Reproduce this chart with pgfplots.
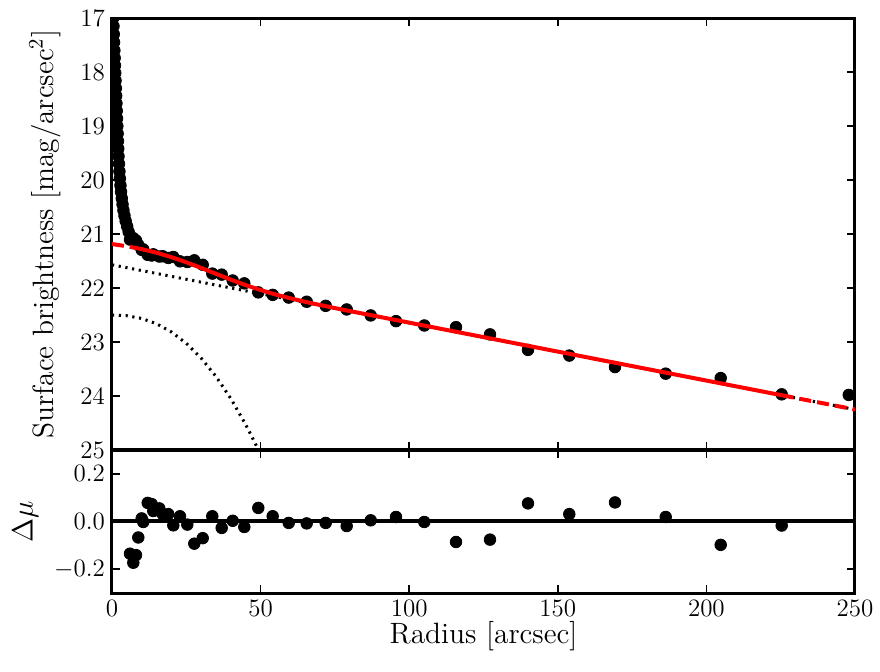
\RequirePackage{fix-cm}
\documentclass[border=0pt]{standalone}
\usepackage{pgfplots}
\pgfplotsset{compat=1.18}

% surface-brightness profile, markers
\pgfplotstableread{
r mu
0.30 16.85
0.40 17.00
0.50 17.15
0.60 17.30
0.70 17.45
0.80 17.60
0.90 17.74
1.00 17.88
1.10 18.02
1.20 18.16
1.30 18.30
1.40 18.44
1.50 18.58
1.60 18.72
1.70 18.86
1.80 19.00
1.90 19.14
2.00 19.28
2.10 19.42
2.20 19.56
2.35 19.70
2.50 19.84
2.65 19.97
2.85 20.10
3.05 20.22
3.30 20.34
3.55 20.45
3.85 20.56
4.20 20.66
4.60 20.76
5.10 20.86
5.60 20.96
6.06 21.103
7.17 21.077
8.08 21.119
8.85 21.201
9.99 21.293
10.53 21.285
12.01 21.385
13.36 21.398
13.89 21.376
15.92 21.417
17.06 21.412
18.94 21.443
20.63 21.425
22.88 21.506
25.34 21.518
27.69 21.487
30.52 21.570
33.75 21.733
36.91 21.752
40.61 21.861
44.52 21.914
49.23 22.081
54.07 22.127
59.46 22.177
65.51 22.254
71.90 22.330
78.97 22.397
87.05 22.508
95.56 22.613
105.08 22.694
115.75 22.725
127.19 22.859
139.97 23.146
153.87 23.251
169.25 23.464
186.31 23.586
204.81 23.668
225.34 23.969
247.90 23.980
}\profile

% residuals
\pgfplotstableread{
r dmu
6.06 -0.135
7.17 -0.173
8.08 -0.141
8.85 -0.067
9.99 0.013
10.53 -0.002
12.01 0.078
13.36 0.073
13.89 0.044
15.92 0.055
17.06 0.031
18.94 0.031
20.63 -0.016
22.88 0.022
25.34 -0.013
27.69 -0.093
30.52 -0.070
33.75 0.022
36.91 -0.027
40.61 0.003
44.52 -0.023
49.23 0.057
54.07 0.022
59.46 -0.006
65.51 -0.008
71.90 -0.006
78.97 -0.019
87.05 0.005
95.56 0.019
105.08 -0.002
115.75 -0.086
127.19 -0.076
139.97 0.076
153.87 0.031
169.25 0.080
186.31 0.019
204.81 -0.098
225.34 -0.017
}\resid

\pgfplotsset{
  panel/.style={
    scale only axis, width=371.5pt,
    xmin=0, xmax=250, xtick={0,50,...,250},
    axis line style={line width=1.5pt},
    every tick/.style={black, line width=0.8pt},
    major tick length=4pt, tick align=inside,
    xtick pos=both, ytick pos=both,
    tick label style={font=\fontsize{12.5}{14}\selectfont},
    label style={font=\fontsize{14.7}{17}\selectfont},
    clip marker paths=true,
  },
  dots/.style={only marks, mark=*, mark size=2.9pt, mark options={draw=black, fill=black}},
  dotline/.style={black, line width=1.5pt, dash pattern=on 1.1pt off 2.3pt},
}

\begin{document}
\begin{tikzpicture}
\begin{axis}[panel, name=top, at={(0,71.5pt)}, anchor=south west, height=216pt,
    ymin=17, ymax=25, y dir=reverse, ytick={17,18,...,25}, xticklabels={},
    ylabel={Surface brightness [mag/arcsec$^2$]},
    ylabel style={at={(axis description cs:-0.0902,0.5)}, anchor=center}]
\addplot[dots] table[x=r, y=mu] {\profile};
% disk
\addplot[dotline] coordinates {(0,21.57) (250,24.25)};
% bulge
\addplot[dotline] coordinates {(0,22.500) (5,22.513) (10,22.564) (15,22.662) (20,22.814)
  (25,23.025) (30,23.299) (35,23.639) (40,24.049) (45,24.531) (48,24.856) (50,25.087)};
% total model
\addplot[red, line width=2pt, dash pattern=on 6pt off 3pt] coordinates {(0,21.186) (5,21.227) (6.06,21.238)};
\addplot[red, line width=2pt] coordinates {(6.06,21.238) (10,21.280) (15,21.347) (20,21.429)
  (25,21.524) (30,21.629) (35,21.738) (40,21.846) (45,21.947) (50,22.038) (55,22.120)
  (60,22.191) (65,22.256) (70,22.315) (75,22.372) (80,22.427) (225.34,23.986)};
\addplot[red, line width=2pt, dash pattern=on 6pt off 3pt] coordinates {(225.34,23.986) (250,24.250)};
\end{axis}

\begin{axis}[panel, name=bot, at={(0,0)}, anchor=south west, height=71.5pt,
    ymin=-0.3, ymax=0.3, ytick={-0.2,0,0.2}, yticklabels={$-0.2$,$0.0$,$0.2$},
    xlabel={Radius [arcsec]}, ylabel={$\Delta\mu$},
    xlabel style={at={(axis description cs:0.5,-0.3007)}, anchor=center},
    ylabel style={at={(axis description cs:-0.1164,0.5)}, anchor=center}]
\addplot[black, line width=2pt] coordinates {(0,0) (250,0)};
\addplot[dots] table[x=r, y=dmu] {\resid};
\end{axis}
\pgfresetboundingbox
\path[use as bounding box] (-56pt,-39pt) rectangle (384pt,296.5pt);
\end{tikzpicture}
\end{document}
